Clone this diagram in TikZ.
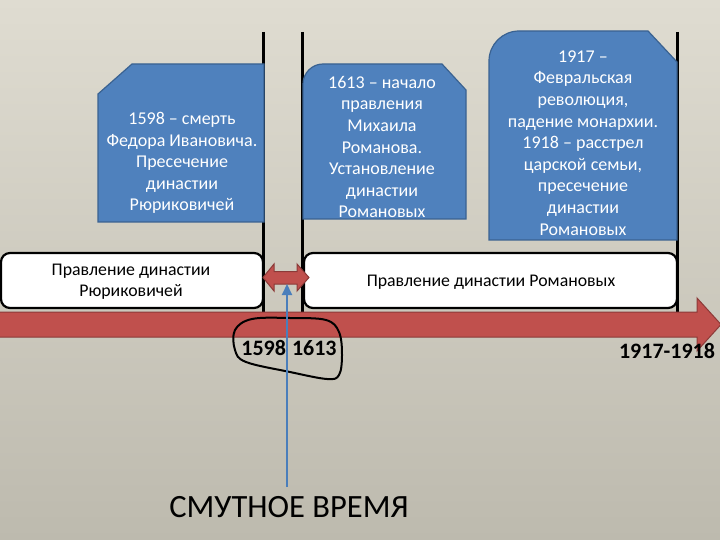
\documentclass[tikz,border=0pt]{standalone}
\usepackage{fontspec}
\setmainfont{Carlito}
\usetikzlibrary{arrows.meta}
\definecolor{bgtop}{HTML}{DFDCD1}
\definecolor{bgbot}{HTML}{BDBAAE}
\definecolor{boxblue}{HTML}{4F81BD}
\definecolor{boxblueline}{HTML}{3A6291}
\definecolor{tlred}{HTML}{C0504D}
\definecolor{tlredline}{HTML}{8C3A38}
\definecolor{arrowblue}{HTML}{4A7EBB}
\tikzset{
  bluebox/.style={fill=boxblue, draw=boxblueline, line width=1.2bp},
  bluetext/.style={text=white, align=center, inner sep=0pt, font=\fontsize{18bp}{21.6bp}\selectfont},
  whitebox/.style={fill=white, draw=black, line width=2.2bp, rounded corners=9bp},
  whitetext/.style={text=black, align=center, inner sep=0pt, font=\fontsize{17.8bp}{21bp}\selectfont},
  yeartext/.style={text=black, inner sep=0pt, font=\fontsize{22bp}{26bp}\selectfont\bfseries},
  vline/.style={draw=black, line width=3bp},
  redshape/.style={fill=tlred, draw=tlredline, line width=1bp},
}
\begin{document}
\begin{tikzpicture}[x=1bp,y=-1bp]
% background
\shade[top color=bgtop, bottom color=bgbot] (0,0) rectangle (720,540);
\useasboundingbox (0,0) rectangle (720,540);
% vertical separators
\draw[vline] (263,32) -- (263,312);
\draw[vline] (302,32) -- (302,312);
\draw[vline] (677,32) -- (677,312);
% blue boxes
\path[bluebox] (98,94) -- (132,64) -- (264,64) -- (264,222) -- (98,222) -- cycle;
\path[bluebox] (303,219) -- (303,84) .. controls (303,73) and (312,64) .. (323,64)
  -- (442,64) -- (466,90) -- (466,219) -- cycle;
\path[bluebox] (489,240) -- (489,61) .. controls (489,44.5) and (502.5,31) .. (519,31)
  -- (648,31) -- (677,62) -- (677,240) -- cycle;
\node[bluetext] (t1) at (182,163) {1598 – смерть\\Федора Ивановича.\\Пресечение\\династии\\Рюриковичей};
\node[bluetext] (t2) at (382,147) {1613 – начало\\правления\\Михаила\\Романова.\\Установление\\династии\\Романовых};
\node[bluetext] (t3) at (583,143) {1917 –\\Февральская\\революция,\\падение монархии.\\1918 – расстрел\\царской семьи,\\пресечение\\династии\\Романовых};
% white boxes
\path[whitebox] (1,253) rectangle (263,308);
\path[whitebox] (304,253) rectangle (677,308);
\node[whitetext] (ruriks) at (131,282) {Правление династии\\Рюриковичей};
\node[whitetext] (romanovs) at (491,282) {Правление династии Романовых};
% main timeline arrow
\path[redshape] (-2,312) -- (697,312) -- (697,298) -- (721,324.5) -- (697,351) -- (697,337) -- (-2,337) -- cycle;
% double arrow (Time of Troubles)
\path[redshape] (263,277.5) -- (274,264) -- (274,271.5) -- (297,271.5) -- (297,264) -- (309,277.5)
  -- (297,291) -- (297,284) -- (274,284) -- (274,291) -- cycle;
\coordinate (dbl) at (287,284);
% years
\node[yeartext] (y1) at (289,348) {1598\hspace{6bp}1613};
\node[yeartext] (y2) at (667,351) {1917-1918};
% hand-drawn loop
\draw[black, line width=2bp, line join=round]
  plot[smooth cycle, tension=0.6] coordinates {(235,330) (252,319) (290,318) (326,320) (339,332) (342,355) (339,375) (327,379) (290,372) (246,362) (235,350)};
% label and arrow
\node[text=black, inner sep=0pt, font=\fontsize{32.5bp}{36bp}\selectfont] (smuta) at (289,507) {СМУТНОЕ ВРЕМЯ};
\coordinate (bstart) at (287,487);
\draw[arrowblue, line width=2bp, -{Triangle[length=11bp,width=10bp]}] (bstart) -- (dbl);
\end{tikzpicture}
\end{document}
